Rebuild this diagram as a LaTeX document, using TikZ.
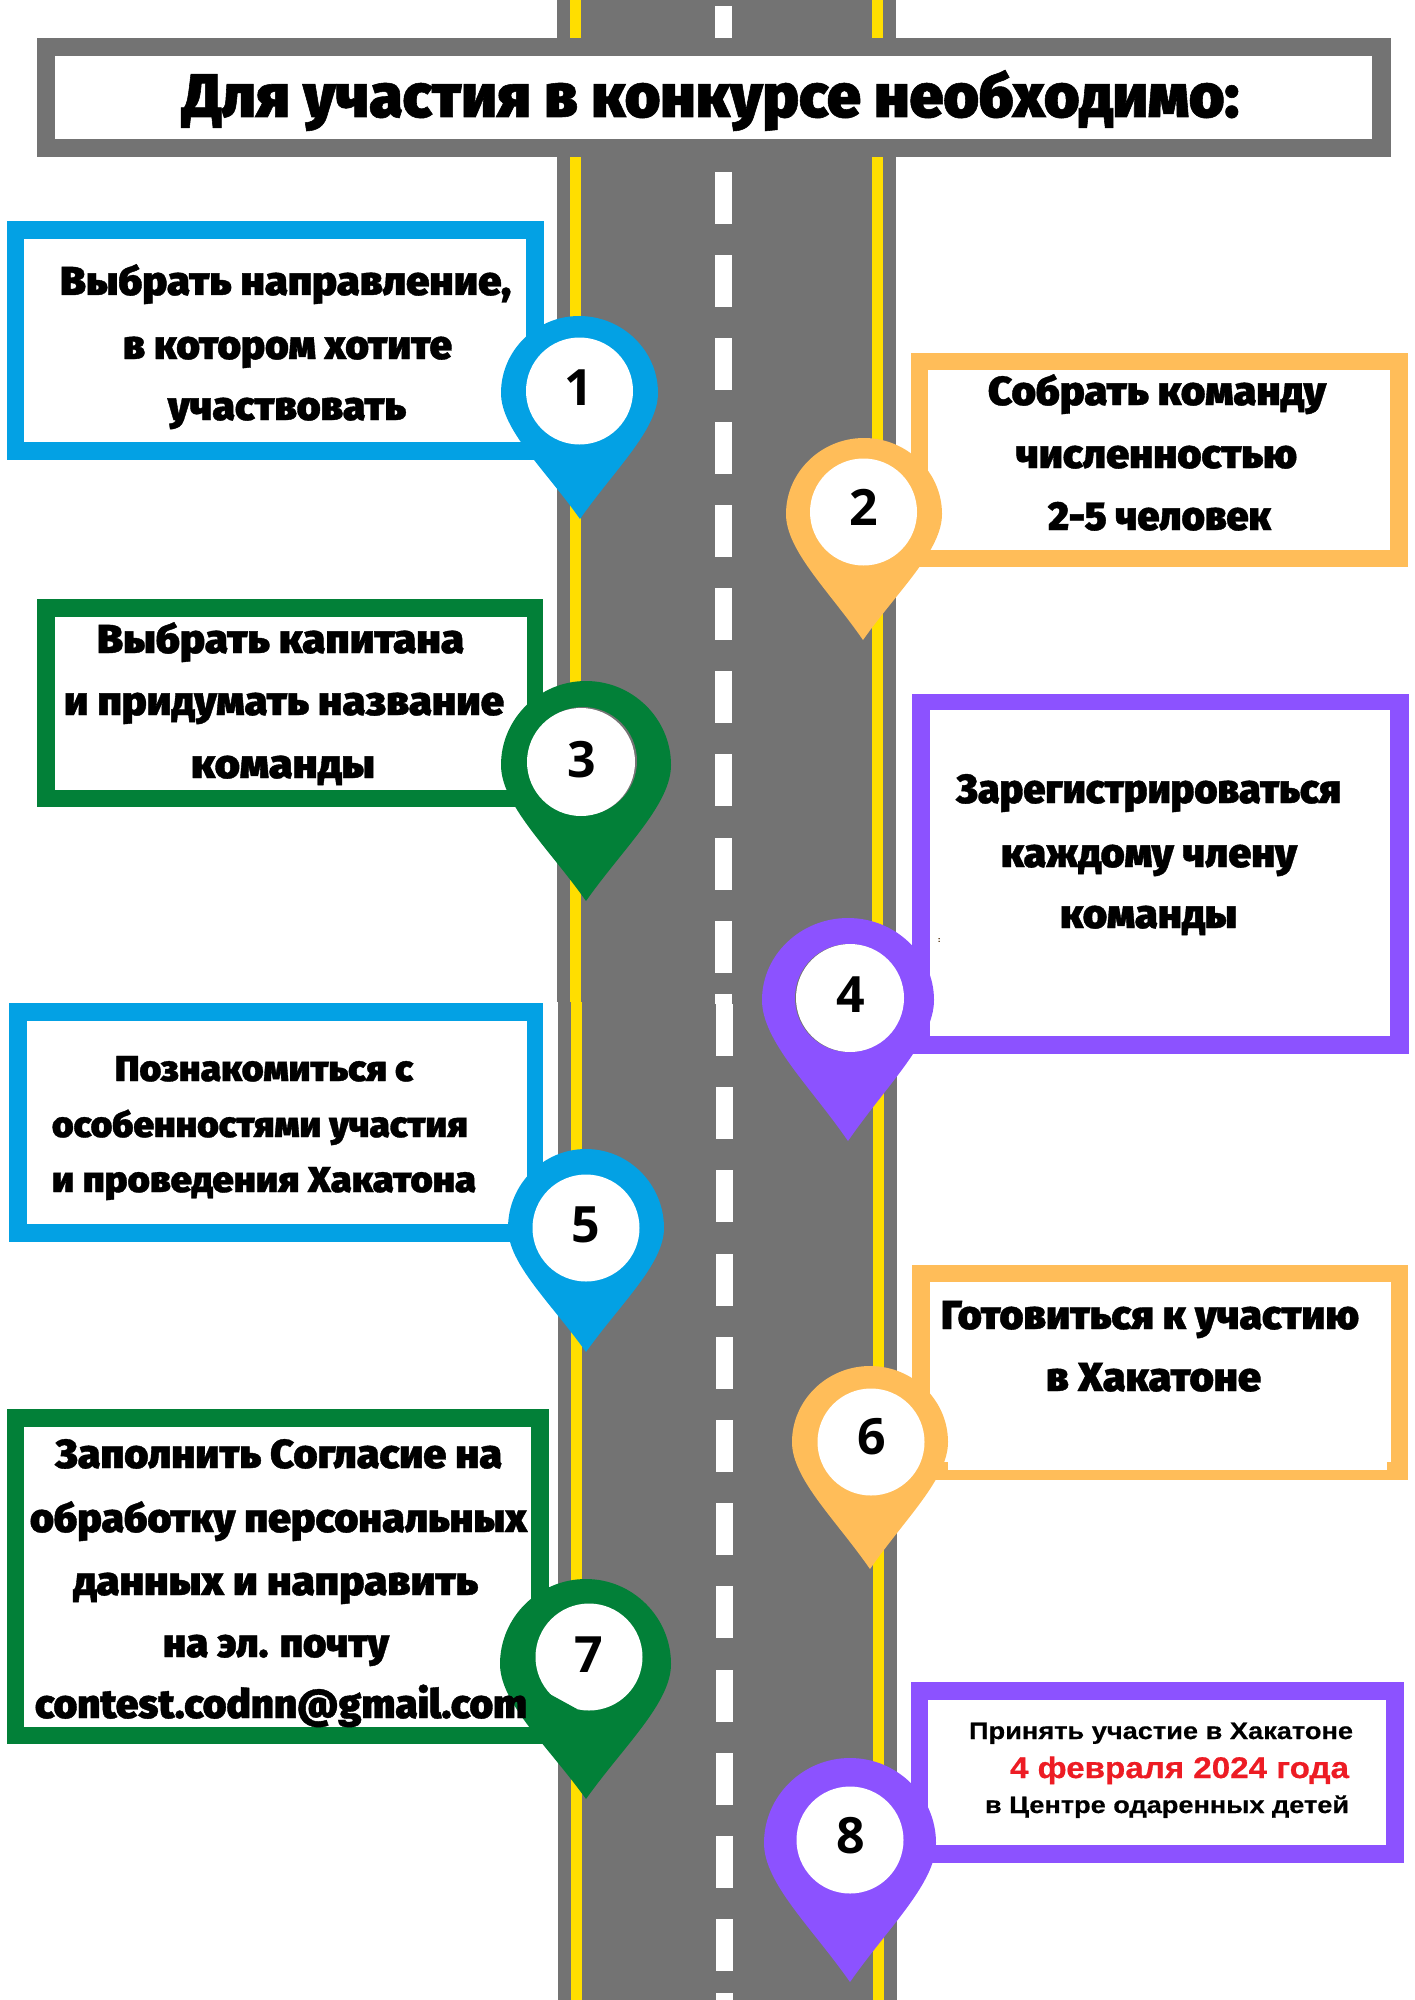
\documentclass[tikz,border=0pt]{standalone}
\usepackage{fontspec}
\setmainfont{Fira Sans}
\newfontfamily\hvb[FakeBold=0.9]{Fira Sans Black}
\newfontfamily\num{Open Sans}
\newfontfamily\arb[FakeBold=0.5]{Liberation Sans Bold}
\definecolor{road}{HTML}{737373}
\definecolor{lane}{HTML}{FFDE00}
\definecolor{pblue}{HTML}{03A1E4}
\definecolor{porange}{HTML}{FFBD59}
\definecolor{pgreen}{HTML}{028038}
\definecolor{ppurple}{HTML}{8C52FF}
\definecolor{dred}{HTML}{ED1C24}
\newlength\pxu \setlength\pxu{0.02cm}
\newlength\lw
\tikzset{
  linetext/.style={inner sep=0pt,outer sep=0pt,anchor=base west,text=black},
  numtext/.style={inner sep=0pt,outer sep=0pt,anchor=base,font=\num\bfseries\fontsize{28.5}{30}\selectfont,text=black},
  holenode/.style={circle,fill=white,inner sep=0pt,outer sep=0pt,minimum size=#1*0.02cm}
}
% name, x0, x1, baseline, font, text
\newcommand\tl[6]{\setlength\lw{\numexpr#3-#2\relax\pxu}%
  \node[linetext] (#1) at (#2,#4) {\resizebox{\lw}{\height}{#5#6}};}
% colour, outer x0,y0,x1,y1, inner x0,y0,x1,y1
\newcommand\bx[9]{\fill[#1] (#2,#3) rectangle (#4,#5);\fill[white] (#6,#7) rectangle (#8,#9);}
% colour, cx, top, widey, left, right, tipx, tipy
\newcommand\pin[8]{\fill[#1] (#7,#8)
  .. controls ({#7-0.44*(#7-#5)},{#8-0.39*(#8-#4)}) and (#5,{#4+0.29*(#8-#4)}) .. (#5,#4)
  .. controls (#5,{#4-0.55*(#4-#3)}) and ({#2-0.55*(#2-#5)},#3) .. (#2,#3)
  .. controls ({#2+0.55*(#6-#2)},#3) and (#6,{#4-0.55*(#4-#3)}) .. (#6,#4)
  .. controls (#6,{#4+0.29*(#8-#4)}) and ({#7+0.44*(#6-#7)},{#8-0.39*(#8-#4)}) .. (#7,#8) -- cycle;}
\begin{document}
\begin{tikzpicture}[x=0.02cm,y=-0.02cm]
\useasboundingbox (0,0) rectangle (1414,2000);
% road
\fill[road] (557,0) rectangle (896,1002);
\fill[road] (558,1002) rectangle (897,2000);
\fill[lane] (570,0) rectangle (581,1002);
\fill[lane] (571,1002) rectangle (582,2000);
\fill[lane] (872,0) rectangle (883,1002);
\fill[lane] (873,1002) rectangle (884,2000);
\fill[white] (715,6) rectangle (732,58);
\foreach \k in {0,...,9}{\fill[white] (715,{172+83.2*\k}) rectangle (732,{172+83.2*\k+52});}
\fill[white] (715,994) rectangle (732,1004);
\fill[white] (716,1004) rectangle (733,1056);
\foreach \k in {11,...,21}{\fill[white] (716,{172+83.2*\k}) rectangle (733,{172+83.2*\k+52});}
\fill[white] (716,1993) rectangle (733,2000);
% title
\bx{road}{37}{38}{1391}{157}{55}{56}{1372}{139}
% boxes
\bx{pblue}{7}{221}{544}{460}{24}{239}{526}{442}
\bx{porange}{911}{353}{1408}{567}{928}{370}{1390}{550}
\bx{pgreen}{37}{599}{543}{807}{55}{617}{527}{790}
\bx{ppurple}{912}{694}{1409}{1054}{930}{710}{1390}{1036}
\bx{pblue}{9}{1003}{543}{1242}{27}{1021}{527}{1224}
\bx{porange}{912}{1265}{1408}{1480}{930}{1282}{1391}{1462}
\fill[white] (948,1462) rectangle (1387,1470);
\bx{pgreen}{7}{1409}{549}{1744}{24}{1427}{531}{1727}
\bx{ppurple}{911}{1682}{1404}{1863}{928}{1700}{1386}{1845}
% pins
\pin{pblue}{579}{316}{393}{501}{658}{580}{519}
\node[holenode=107] (h1) at (579.5,391) {};
\pin{porange}{864}{438}{514}{786}{942}{863}{640}
\node[holenode=107] (h2) at (863.5,512) {};
\pin{pgreen}{586}{681}{765}{501}{671}{586}{901}
\fill[road] (583,761) circle (54);
\node[holenode=108] (h3) at (581,762) {};
\pin{ppurple}{848}{918}{1000}{762}{934}{848}{1141}
\fill[road] (849,998) circle (54);
\node[holenode=108] (h4) at (850,998) {};
\pin{pblue}{586}{1149}{1228}{508}{664}{586}{1352}
\node[holenode=107] (h5) at (586,1228) {};
\pin{porange}{870}{1366}{1442}{792}{948}{870}{1569}
\node[holenode=107] (h6) at (871,1442) {};
\pin{pgreen}{586}{1579}{1664}{500}{671}{586}{1799}
\node[holenode=107] (h7) at (589,1657) {};
\fill[pgreen] (546,1692) -- (577,1709) -- (560,1714) -- (538,1702) -- cycle;
\pin{ppurple}{850}{1758}{1843}{764}{936}{850}{1982}
\node[holenode=107] (h8) at (850,1840) {};
% numbers
\node[numtext] (n1) at (579,405) {1};
\node[numtext] (n2) at (864,525) {2};
\node[numtext] (n3) at (581.5,777) {3};
\node[numtext] (n4) at (851,1012) {4};
\node[numtext] (n5) at (586,1242) {5};
\node[numtext] (n6) at (872,1454) {6};
\node[numtext] (n7) at (589,1672) {7};
\node[numtext] (n8) at (851,1853) {8};
% text
\def\hA{\hvb\fontsize{35}{36}\selectfont}
\def\hB{\hvb\fontsize{23}{24}\selectfont}
\def\hC{\hvb\fontsize{20.5}{22}\selectfont}
\tl{title}{182}{1239}{117}{\hA}{Для участия в конкурсе необходимо:}
\tl{a1}{60}{511}{295}{\hB}{Выбрать направление,}
\tl{a2}{123}{452}{359}{\hB}{в котором хотите}
\tl{a3}{168}{406}{420}{\hB}{участвовать}
\tl{b1}{988}{1326}{405}{\hB}{Собрать команду}
\tl{b2}{1016}{1297}{468}{\hB}{численностью}
\tl{b3}{1048}{1271}{530}{\hB}{2-5 человек}
\tl{c1}{97}{464}{653}{\hB}{Выбрать капитана}
\tl{c2}{64}{504}{715}{\hB}{и придумать название}
\tl{c3}{191}{375}{778}{\hB}{команды}
\tl{d1}{956}{1341}{803}{\hB}{Зарегистрироваться}
\tl{d2}{1001}{1297}{867}{\hB}{каждому члену}
\tl{d3}{1060}{1237}{928}{\hB}{команды}
\node[inner sep=0pt,font=\arb\fontsize{4}{5}\selectfont,text=black!70!orange] (dot) at (939,940) {:};
\tl{e1}{115}{413}{1081}{\hC}{Познакомиться с}
\tl{e2}{52}{468}{1137}{\hC}{особенностями участия}
\tl{e3}{52}{476}{1192}{\hC}{и проведения Хакатона}
\tl{f1}{941}{1359}{1329}{\hB}{Готовиться к участию}
\tl{f2}{1046}{1261}{1391}{\hB}{в Хакатоне}
\tl{g1}{55}{502}{1468}{\hB}{Заполнить Согласие на}
\tl{g2}{30}{527}{1532}{\hB}{обработку персональных}
\tl{g3}{73}{478}{1595}{\hB}{данных и направить}
\tl{g4}{163}{389}{1657}{\hB}{на эл. почту}
\tl{g5}{35}{527}{1718}{\hB}{contest.codnn@gmail.com}
\tl{k1}{969}{1353}{1739}{\arb\fontsize{13.5}{14}\selectfont}{Принять участие в Хакатоне}
\tl{k2}{1010}{1349}{1778}{\arb\fontsize{17}{18}\selectfont\color{dred}}{4 февраля 2024 года}
\tl{k3}{985}{1349}{1813}{\arb\fontsize{13.5}{14}\selectfont}{в Центре одаренных детей}
\end{tikzpicture}
\end{document}
